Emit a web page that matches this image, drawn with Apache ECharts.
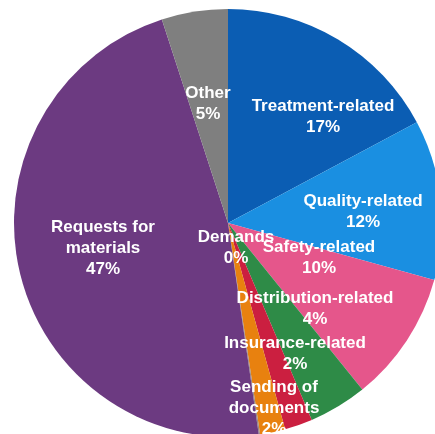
<!DOCTYPE html>
<html>
<head>
<meta charset="utf-8">
<script src="https://cdn.jsdelivr.net/npm/echarts@6/dist/echarts.min.js"></script>
<style>
html,body{margin:0;padding:0;background:#fff;}
#chart{width:435px;height:434px;}
</style>
</head>
<body>
<div id="chart"></div>
<script>
const categories = ["Treatment-related", "Quality-related", "Safety-related", "Distribution-related", "Insurance-related", "Sending of documents", "Demands", "Requests for materials", "Other"];
const labelNames = ["Treatment-related", "Quality-related", "Safety-related", "Distribution-related", "Insurance-related", "Sending of\ndocuments", "Demands", "Requests for\nmaterials", "Other"];
const shares = [17.2, 12.1, 9.9, 4.4, 2.1, 1.9, 0.1, 47.3, 5.0];
const colors = ["#0b5db3", "#1a8fe1", "#e5568b", "#2e8b47", "#cb1f40", "#e8810f", "#9a8a80", "#6c3a81", "#7f7f7f"];
// label anchor points (text block centres)
const labelSpots = [[323,117],[363,212],[319,258],[315,309],[295,354],[274,408],[236,248],[103,248],[208,104]];

const chart = echarts.init(document.getElementById('chart'), null, {renderer:'canvas'});
chart.setOption({
  animation: false,
  series: [{
    type: 'pie',
    center: [228, 223],
    radius: [0, 214],
    startAngle: 90,
    clockwise: true,
    minAngle: 0,
    avoidLabelOverlap: false,
    itemStyle: { borderWidth: 0 },
    label: {
      show: true,
      position: 'inside',
      color: '#fff',
      fontFamily: 'Liberation Sans, Arial, sans-serif',
      fontWeight: 'bold',
      fontSize: 17,
      lineHeight: 21,
      align: 'center',
      formatter: p => labelNames[p.dataIndex] + '\n' + Math.round(p.value) + '%'
    },
    labelLine: { show: false },
    labelLayout: function (params) {
      const s = labelSpots[params.dataIndex];
      return { x: s[0], y: s[1], align: 'center', verticalAlign: 'middle' };
    },
    data: categories.map((c, i) => ({ name: c, value: shares[i], itemStyle: { color: colors[i] } }))
  }]
});
</script>
</body>
</html>
